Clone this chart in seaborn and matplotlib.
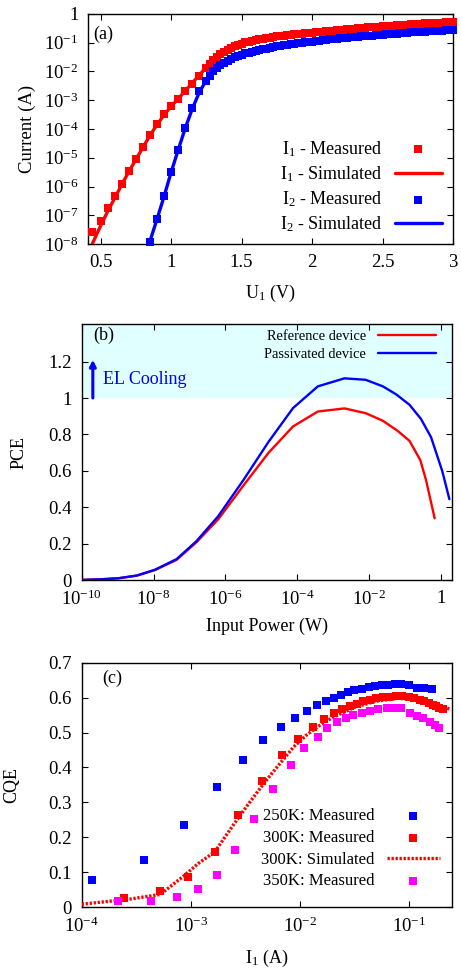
import numpy as np
import pandas as pd
import matplotlib
matplotlib.use("Agg")
import matplotlib.pyplot as plt
import seaborn as sns
from matplotlib.ticker import FixedLocator, FuncFormatter, NullLocator

# ---------------- Panel (a): I-V curves ----------------
i1_meas_u = [0.44, 0.50, 0.55, 0.60, 0.65, 0.70, 0.75, 0.80, 0.85, 0.90, 0.95, 1.00,
             1.05, 1.10, 1.15, 1.20, 1.25, 1.275, 1.30, 1.325, 1.35, 1.375, 1.40, 1.425,
             1.45, 1.475, 1.50, 1.525, 1.55, 1.575, 1.60, 1.625, 1.65, 1.675, 1.70, 1.725,
             1.75, 1.775, 1.80, 1.825, 1.85, 1.875, 1.90, 1.925, 1.95, 1.975, 2.00, 2.025,
             2.05, 2.075, 2.10, 2.125, 2.15, 2.175, 2.20, 2.225, 2.25, 2.275, 2.30, 2.325,
             2.35, 2.375, 2.40, 2.425, 2.45, 2.475, 2.50, 2.525, 2.55, 2.575, 2.60, 2.625,
             2.65, 2.675, 2.70, 2.725, 2.75, 2.775, 2.80, 2.825, 2.85, 2.875, 2.90, 2.925,
             2.95, 2.975, 3.00]
i1_meas_log = [-7.59, -7.20, -6.76, -6.34, -5.91, -5.46, -5.05, -4.64, -4.21, -3.84, -3.49, -3.20,
               -2.96, -2.68, -2.42, -2.14, -1.88, -1.74, -1.60, -1.50, -1.40, -1.32, -1.24, -1.18,
               -1.12, -1.07, -1.03, -0.99, -0.96, -0.93, -0.90, -0.88, -0.86, -0.84, -0.82, -0.80,
               -0.78, -0.765, -0.75, -0.735, -0.72, -0.71, -0.70, -0.685, -0.67, -0.66, -0.65, -0.64,
               -0.63, -0.615, -0.60, -0.59, -0.58, -0.57, -0.56, -0.545, -0.53, -0.52, -0.51, -0.50,
               -0.49, -0.48, -0.47, -0.46, -0.45, -0.44, -0.43, -0.425, -0.42, -0.41, -0.40, -0.39,
               -0.38, -0.37, -0.36, -0.355, -0.35, -0.34, -0.33, -0.325, -0.32, -0.315, -0.31, -0.30,
               -0.29, -0.285, -0.28]
i1_sim_u = [0.44, 0.50, 0.55, 0.60, 0.65, 0.70, 0.75, 0.80, 0.85, 0.90, 0.95, 1.00, 1.05,
            1.10, 1.15, 1.20, 1.25, 1.30, 1.35, 1.40, 1.45, 1.50, 1.60, 1.70, 1.80, 2.00,
            2.20, 2.40, 2.60, 2.80, 3.00]
i1_sim_log = [-8.00, -7.36, -6.86, -6.40, -5.93, -5.48, -5.06, -4.64, -4.22, -3.85, -3.51, -3.21, -2.95,
              -2.67, -2.40, -2.12, -1.86, -1.60, -1.40, -1.24, -1.12, -1.03, -0.90, -0.82, -0.75, -0.65,
              -0.56, -0.47, -0.40, -0.33, -0.28]

i2_meas_u = [0.85, 0.90, 0.95, 1.00, 1.05, 1.10, 1.15, 1.20, 1.25, 1.275, 1.30, 1.325,
             1.35, 1.375, 1.40, 1.425, 1.45, 1.475, 1.50, 1.525, 1.55, 1.575, 1.60, 1.625,
             1.65, 1.675, 1.70, 1.725, 1.75, 1.775, 1.80, 1.825, 1.85, 1.875, 1.90, 1.925,
             1.95, 1.975, 2.00, 2.025, 2.05, 2.075, 2.10, 2.125, 2.15, 2.175, 2.20, 2.225,
             2.25, 2.275, 2.30, 2.325, 2.35, 2.375, 2.40, 2.425, 2.45, 2.475, 2.50, 2.525,
             2.55, 2.575, 2.60, 2.625, 2.65, 2.675, 2.70, 2.725, 2.75, 2.775, 2.80, 2.825,
             2.85, 2.875, 2.90, 2.925, 2.95, 2.975, 3.00]
i2_meas_log = [-7.94, -7.13, -6.34, -5.50, -4.73, -3.95, -3.28, -2.67, -2.32, -2.15, -2.00, -1.88,
               -1.78, -1.70, -1.62, -1.56, -1.50, -1.45, -1.41, -1.37, -1.34, -1.31, -1.28, -1.255,
               -1.23, -1.205, -1.18, -1.155, -1.13, -1.11, -1.09, -1.075, -1.06, -1.04, -1.02, -1.005,
               -0.99, -0.975, -0.96, -0.945, -0.93, -0.915, -0.90, -0.885, -0.87, -0.855, -0.84, -0.83,
               -0.82, -0.81, -0.80, -0.79, -0.78, -0.77, -0.76, -0.75, -0.74, -0.73, -0.72, -0.71,
               -0.70, -0.69, -0.68, -0.67, -0.66, -0.65, -0.64, -0.635, -0.63, -0.62, -0.61, -0.605,
               -0.60, -0.59, -0.58, -0.575, -0.57, -0.565, -0.56]
i2_sim_u = [0.84, 0.90, 0.95, 1.00, 1.05, 1.10, 1.15, 1.20, 1.25, 1.30, 1.35, 1.40, 1.50,
            1.60, 1.70, 1.80, 2.00, 2.20, 2.40, 2.60, 2.80, 3.00]
i2_sim_log = [-8.05, -7.13, -6.34, -5.50, -4.73, -3.97, -3.30, -2.72, -2.30, -2.00, -1.78, -1.62, -1.41,
              -1.28, -1.18, -1.09, -0.96, -0.84, -0.76, -0.68, -0.61, -0.56]

# ---------------- Panel (b): PCE vs input power ----------------
ref_logp = [-10.0, -9.5, -8.98, -8.47, -7.96, -7.36, -6.81, -6.2, -5.5, -4.8, -4.12, -3.43,
            -2.69, -2.10, -1.62, -1.21, -0.88, -0.58, -0.42, -0.18]
ref_pce = [0.002, 0.005, 0.011, 0.025, 0.056, 0.112, 0.208, 0.335, 0.52, 0.70, 0.844, 0.926,
           0.943, 0.917, 0.875, 0.82, 0.765, 0.66, 0.55, 0.34]
pas_logp = [-10.0, -9.5, -8.98, -8.47, -7.96, -7.36, -6.81, -6.2, -5.5, -4.8, -4.12, -3.43,
            -2.69, -2.10, -1.62, -1.25, -0.88, -0.56, -0.28, 0.03, 0.23]
pas_pce = [0.002, 0.005, 0.011, 0.026, 0.058, 0.116, 0.214, 0.352, 0.55, 0.76, 0.945, 1.064,
           1.108, 1.10, 1.064, 1.02, 0.963, 0.885, 0.785, 0.60, 0.445]

# ---------------- Panel (c): CQE vs I1 ----------------
k250_logi = [-3.903, -3.429, -3.06, -2.757, -2.519, -2.335, -2.176, -2.042, -1.932, -1.84, -1.76,
             -1.69, -1.62, -1.56, -1.50, -1.43, -1.37, -1.31, -1.25, -1.19, -1.13, -1.07, -1.00,
             -0.93, -0.86, -0.79]
k250_cqe = [0.077, 0.134, 0.234, 0.344, 0.42, 0.478, 0.515, 0.543, 0.561, 0.578, 0.59,
            0.60, 0.608, 0.615, 0.621, 0.626, 0.63, 0.633, 0.635, 0.636, 0.638, 0.638, 0.637,
            0.628, 0.627, 0.624]
k300_logi = [-3.61, -3.28, -3.024, -2.781, -2.565, -2.35, -2.167, -2.015, -1.883, -1.776, -1.685,
             -1.612, -1.54, -1.48, -1.42, -1.36, -1.30, -1.24, -1.18, -1.12, -1.06, -1.00, -0.95,
             -0.90, -0.86, -0.82, -0.78, -0.75, -0.72, -0.69]
k300_cqe = [0.025, 0.046, 0.086, 0.158, 0.263, 0.362, 0.436, 0.482, 0.515, 0.538, 0.555,
            0.566, 0.577, 0.583, 0.589, 0.594, 0.598, 0.601, 0.603, 0.605, 0.605, 0.603, 0.598,
            0.594, 0.589, 0.585, 0.58, 0.576, 0.571, 0.566]
k300_sim_logi = [-4.0, -3.85, -3.55, -3.28, -3.06, -2.93, -2.78, -2.61, -2.5, -2.4, -2.3, -2.18,
                 -2.056, -1.938, -1.815, -1.7, -1.5, -1.3, -1.1, -0.9, -0.75, -0.62]
k300_sim_cqe = [0.008, 0.013, 0.023, 0.036, 0.09, 0.125, 0.158, 0.235, 0.283, 0.325, 0.366, 0.412,
                0.459, 0.493, 0.521, 0.543, 0.572, 0.59, 0.598, 0.594, 0.582, 0.566]
k350_logi = [-3.665, -3.368, -3.129, -2.937, -2.763, -2.592, -2.418, -2.249, -2.084, -1.962, -1.837,
             -1.749, -1.657, -1.58, -1.51, -1.43, -1.36, -1.28, -1.20, -1.13, -1.07, -0.99, -0.93,
             -0.87, -0.81, -0.76, -0.72]
k350_cqe = [0.017, 0.017, 0.029, 0.051, 0.091, 0.162, 0.252, 0.339, 0.406, 0.455, 0.486,
            0.512, 0.531, 0.541, 0.55, 0.557, 0.562, 0.566, 0.569, 0.571, 0.570, 0.555, 0.547,
            0.541, 0.531, 0.522, 0.512]

# ---------------- style ----------------
sns.set_theme(style="ticks")
plt.rcParams['font.family'] = ['Liberation Serif', 'DejaVu Serif']
plt.rcParams['mathtext.fontset'] = 'custom'
plt.rcParams['mathtext.rm'] = 'Liberation Serif'
plt.rcParams['mathtext.it'] = 'Liberation Serif:italic'
plt.rcParams['mathtext.bf'] = 'Liberation Serif:bold'
plt.rcParams['axes.edgecolor'] = 'black'
plt.rcParams['axes.linewidth'] = 1.0
plt.rcParams['xtick.color'] = 'black'
plt.rcParams['ytick.color'] = 'black'
plt.rcParams['text.color'] = 'black'
plt.rcParams['axes.labelcolor'] = 'black'

FS = 13
TFS = 13.5
RED, BLUE, MAG = '#ff0000', '#0000ff', '#ff00ff'
SQ_A = 38
SQ_C = 34


def pow_fmt(v, pos):
    e = int(round(np.log10(v)))
    return '1' if e == 0 else r'$10^{%d}$' % e


def g_fmt(v, pos):
    return '%g' % round(v, 3)


def style_ax(ax):
    ax.tick_params(which='both', direction='in', top=True, right=True,
                   length=4, width=0.8, labelsize=TFS, pad=7)
    for s in ax.spines.values():
        s.set_visible(True)
        s.set_color('black')


fig = plt.figure(figsize=(4.61, 9.71), dpi=100)

# ---- (a)
ax = fig.add_axes([0.1909, 0.7487, 0.7918, 0.2369])
ax.set_yscale('log')
sns.scatterplot(x=i1_meas_u, y=10 ** np.array(i1_meas_log), marker='s', s=SQ_A, color=RED,
                linewidth=0, label=r'I$_1$ - Measured', ax=ax, clip_on=False, zorder=3)
sns.lineplot(x=i1_sim_u, y=10 ** np.array(i1_sim_log), color=RED, lw=2.4, sort=False,
             estimator=None, label=r'I$_1$ - Simulated', ax=ax, zorder=3)
sns.scatterplot(x=i2_meas_u, y=10 ** np.array(i2_meas_log), marker='s', s=SQ_A, color=BLUE,
                linewidth=0, label=r'I$_2$ - Measured', ax=ax, clip_on=False, zorder=4)
sns.lineplot(x=i2_sim_u, y=10 ** np.array(i2_sim_log), color=BLUE, lw=2.4, sort=False,
             estimator=None, label=r'I$_2$ - Simulated', ax=ax, zorder=4)
ax.set_xlim(0.41, 3.0)
ax.set_ylim(1e-8, 1)
ax.xaxis.set_major_locator(FixedLocator([0.5, 1, 1.5, 2, 2.5, 3]))
ax.xaxis.set_major_formatter(FuncFormatter(g_fmt))
ax.yaxis.set_major_locator(FixedLocator([10.0 ** e for e in range(-8, 1)]))
ax.yaxis.set_major_formatter(FuncFormatter(pow_fmt))
ax.yaxis.set_minor_locator(NullLocator())
style_ax(ax)
ax.set_xlabel(r'U$_1$ (V)', fontsize=FS)
ax.set_ylabel('Current (A)', fontsize=FS + 0.5)
ax.xaxis.set_label_coords(0.5, -0.168)
ax.yaxis.set_label_coords(-0.142, 0.5)
ax.text(0.014, 0.913, '(a)', transform=ax.transAxes, fontsize=FS, va='center', ha='left')
h, l = ax.get_legend_handles_labels()
ax.legend(h, l, loc='lower right', bbox_to_anchor=(0.969, 0.043), frameon=False,
          markerfirst=False, fontsize=FS, handlelength=2.6, handletextpad=0.68,
          labelspacing=0.3, borderpad=0, borderaxespad=0, scatterpoints=1)

# ---- (b)
ax = fig.add_axes([0.1772, 0.4024, 0.804, 0.2637])
ax.set_xscale('log')
ax.axhspan(1.0, 1.4, color='#e0ffff', zorder=0, lw=0)
sns.lineplot(x=10 ** np.array(ref_logp), y=ref_pce, color=RED, lw=1.7, sort=False,
             estimator=None, label='Reference device', ax=ax, zorder=3)
sns.lineplot(x=10 ** np.array(pas_logp), y=pas_pce, color=BLUE, lw=1.7, sort=False,
             estimator=None, label='Passivated device', ax=ax, zorder=4)
ax.set_xlim(1e-10, 2.05)
ax.set_ylim(0, 1.405)
ax.xaxis.set_major_locator(FixedLocator([10.0 ** e for e in range(-10, 1, 2)]))
ax.xaxis.set_major_formatter(FuncFormatter(pow_fmt))
ax.xaxis.set_minor_locator(NullLocator())
ax.yaxis.set_major_locator(FixedLocator([0, 0.2, 0.4, 0.6, 0.8, 1.0, 1.2]))
ax.yaxis.set_major_formatter(FuncFormatter(g_fmt))
style_ax(ax)
ax.set_xlabel('Input Power (W)', fontsize=FS)
ax.set_ylabel('PCE', fontsize=FS)
ax.xaxis.set_label_coords(0.5, -0.146)
ax.yaxis.set_label_coords(-0.145, 0.5)
ax.text(0.03, 0.958, '(b)', transform=ax.transAxes, fontsize=FS, va='center', ha='left')
arrow_x = 10 ** -9.69
ax.annotate('', xy=(arrow_x, 1.21), xytext=(arrow_x, 1.0),
            arrowprops=dict(arrowstyle='-|>', color=BLUE, lw=2.2, mutation_scale=9,
                            shrinkA=0, shrinkB=0), zorder=5)
ax.text(10 ** -9.41, 1.1, 'EL Cooling', color=BLUE, fontsize=FS, va='center', ha='left')
h, l = ax.get_legend_handles_labels()
ax.legend(h, l, loc='upper right', bbox_to_anchor=(0.956, 0.978), frameon=False,
          markerfirst=False, fontsize=10.4, handlelength=4.0, handletextpad=0.83,
          labelspacing=0.32, borderpad=0, borderaxespad=0)

# ---- (c)
ax = fig.add_axes([0.1772, 0.0659, 0.804, 0.2516])
ax.set_xscale('log')
sns.scatterplot(x=10 ** np.array(k250_logi), y=k250_cqe, marker='s', s=SQ_C, color=BLUE,
                linewidth=0, label='250K: Measured', ax=ax, zorder=3)
sns.scatterplot(x=10 ** np.array(k300_logi), y=k300_cqe, marker='s', s=SQ_C, color=RED,
                linewidth=0, label='300K: Measured', ax=ax, zorder=4)
sns.lineplot(x=10 ** np.array(k300_sim_logi), y=k300_sim_cqe, color=RED, lw=2.4,
             linestyle=(0, (0.7, 0.5)), sort=False, estimator=None,
             label='300K: Simulated', ax=ax, zorder=5)
sns.scatterplot(x=10 ** np.array(k350_logi), y=k350_cqe, marker='s', s=SQ_C, color=MAG,
                linewidth=0, label='350K: Measured', ax=ax, zorder=6)
ax.set_xlim(1e-4, 0.25)
ax.set_ylim(0, 0.7)
ax.xaxis.set_major_locator(FixedLocator([1e-4, 1e-3, 1e-2, 1e-1]))
ax.xaxis.set_major_formatter(FuncFormatter(pow_fmt))
ax.xaxis.set_minor_locator(NullLocator())
ax.yaxis.set_major_locator(FixedLocator([0, 0.1, 0.2, 0.3, 0.4, 0.5, 0.6, 0.7]))
ax.yaxis.set_major_formatter(FuncFormatter(g_fmt))
style_ax(ax)
ax.set_xlabel(r'I$_1$ (A)', fontsize=FS)
ax.set_ylabel('CQE', fontsize=FS)
ax.xaxis.set_label_coords(0.5, -0.167)
ax.yaxis.set_label_coords(-0.165, 0.5)
ax.text(0.055, 0.936, '(c)', transform=ax.transAxes, fontsize=FS, va='center', ha='left')
h, l = ax.get_legend_handles_labels()
ax.legend(h, l, loc='lower right', bbox_to_anchor=(0.967, 0.072), frameon=False,
          markerfirst=False, fontsize=12, handlelength=3.2, handletextpad=0.74,
          labelspacing=0.34, borderpad=0, borderaxespad=0, scatterpoints=1)

fig.savefig('out.png', dpi=100)
